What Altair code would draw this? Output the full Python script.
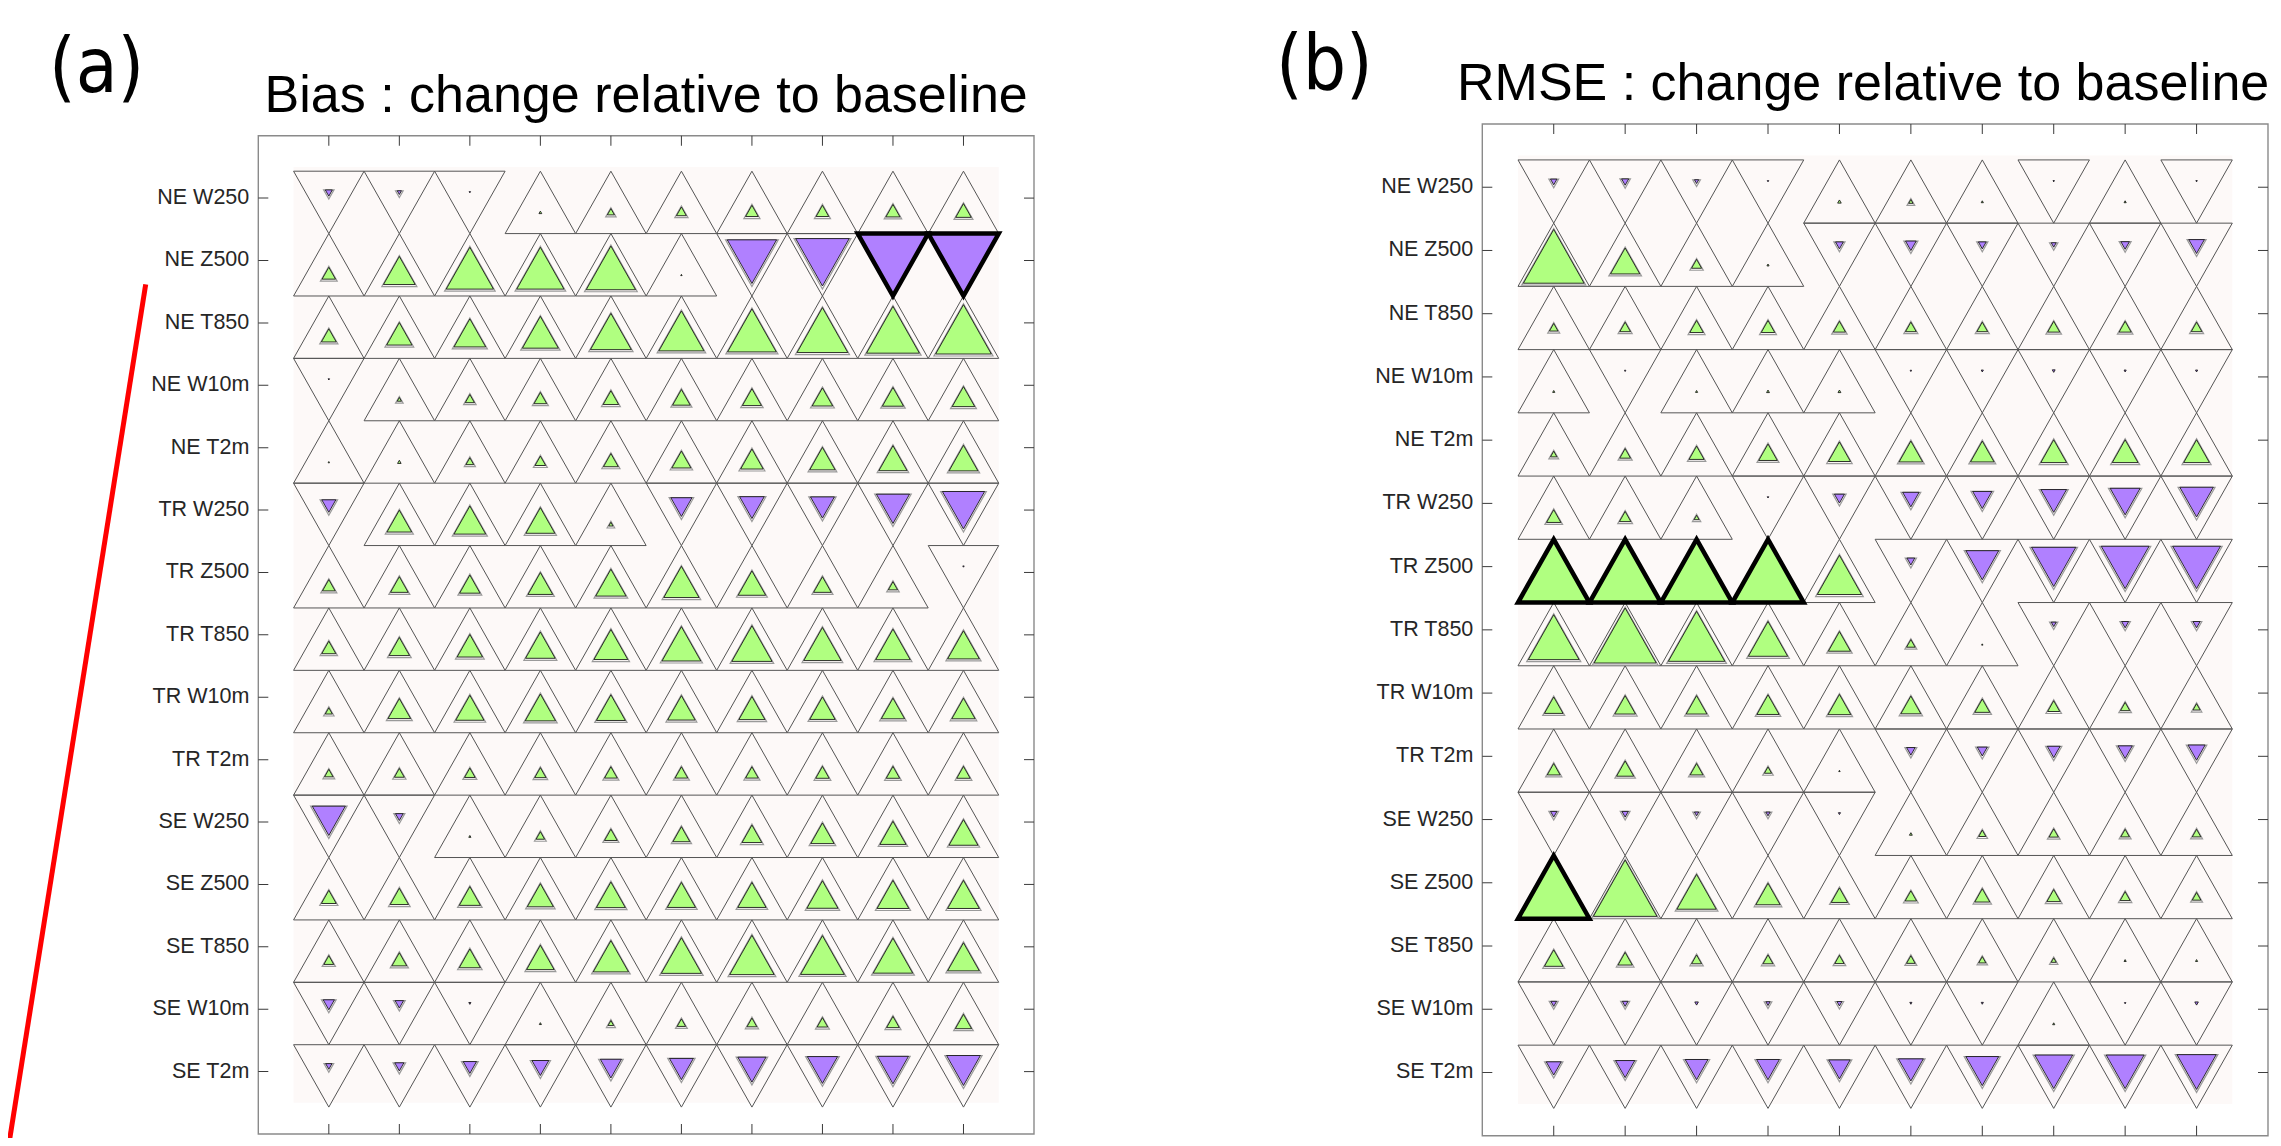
import altair as alt
import pandas as pd

# ---------------- data ----------------
rows = ["NE W250", "NE Z500", "NE T850", "NE W10m", "NE T2m",
        "TR W250", "TR Z500", "TR T850", "TR W10m", "TR T2m",
        "SE W250", "SE Z500", "SE T850", "SE W10m", "SE T2m"]
cols = list(range(1, 11))

# signed relative size of the inner triangle (+ up / green, - down / purple)
bias_NE = [
    [-0.10, -0.06, -0.02, 0.04, 0.10, 0.14, 0.18, 0.18, 0.20, 0.22],
    [0.19, 0.45, 0.67, 0.67, 0.70, 0.02, -0.70, -0.76, -1.00, -1.00],
    [0.21, 0.36, 0.45, 0.51, 0.58, 0.64, 0.69, 0.72, 0.75, 0.79],
    [-0.02, 0.06, 0.13, 0.18, 0.22, 0.25, 0.27, 0.29, 0.30, 0.32],
    [0.02, 0.05, 0.11, 0.15, 0.21, 0.27, 0.32, 0.36, 0.40, 0.41],
]
bias_TR = [
    [-0.20, 0.35, 0.45, 0.41, 0.06, -0.30, -0.35, -0.34, -0.47, -0.60],
    [0.18, 0.25, 0.29, 0.35, 0.43, 0.50, 0.39, 0.25, 0.13, -0.02],
    [0.20, 0.29, 0.36, 0.42, 0.48, 0.55, 0.57, 0.53, 0.49, 0.45],
    [0.10, 0.32, 0.40, 0.43, 0.41, 0.39, 0.37, 0.36, 0.33, 0.33],
    [0.12, 0.14, 0.15, 0.16, 0.18, 0.18, 0.18, 0.19, 0.19, 0.19],
]
bias_SE = [
    [-0.47, -0.11, 0.03, 0.12, 0.18, 0.24, 0.28, 0.33, 0.37, 0.41],
    [0.21, 0.26, 0.30, 0.37, 0.41, 0.40, 0.40, 0.44, 0.45, 0.45],
    [0.14, 0.21, 0.30, 0.39, 0.50, 0.57, 0.63, 0.62, 0.56, 0.45],
    [-0.16, -0.12, -0.03, 0.03, 0.08, 0.12, 0.14, 0.15, 0.18, 0.23],
    [-0.09, -0.13, -0.19, -0.24, -0.30, -0.34, -0.40, -0.43, -0.44, -0.48],
]
bias_sig = [("NE Z500", 9), ("NE Z500", 10)]

rmse_NE = [
    [-0.09, -0.10, -0.06, -0.02, 0.05, 0.06, 0.03, -0.02, 0.03, -0.02],
    [0.85, 0.41, 0.14, 0.03, -0.11, -0.15, -0.11, -0.07, -0.12, -0.22],
    [0.12, 0.15, 0.19, 0.19, 0.17, 0.15, 0.15, 0.17, 0.17, 0.15],
    [0.03, -0.02, 0.03, 0.04, 0.04, -0.02, -0.03, -0.04, -0.03, -0.03],
    [0.09, 0.15, 0.21, 0.26, 0.31, 0.33, 0.33, 0.36, 0.36, 0.36],
]
rmse_TR = [
    [0.20, 0.16, 0.07, -0.02, -0.14, -0.23, -0.27, -0.36, -0.42, -0.47],
    [1.00, 1.00, 1.00, 1.00, 0.62, -0.11, -0.46, -0.62, -0.67, -0.67],
    [0.71, 0.87, 0.79, 0.55, 0.31, 0.12, 0.02, -0.07, -0.10, -0.10],
    [0.26, 0.29, 0.29, 0.31, 0.32, 0.28, 0.21, 0.17, 0.13, 0.10],
    [0.18, 0.24, 0.18, 0.10, 0.02, -0.12, -0.14, -0.18, -0.20, -0.24],
]
rmse_SE = [
    [-0.09, -0.09, -0.06, -0.06, -0.03, 0.04, 0.10, 0.13, 0.12, 0.12],
    [1.00, 0.89, 0.55, 0.34, 0.23, 0.16, 0.21, 0.19, 0.14, 0.12],
    [0.26, 0.20, 0.14, 0.14, 0.13, 0.12, 0.10, 0.07, 0.03, 0.03],
    [-0.08, -0.08, -0.05, -0.06, -0.07, -0.03, -0.03, 0.03, -0.02, -0.05],
    [-0.21, -0.27, -0.32, -0.32, -0.30, -0.35, -0.46, -0.53, -0.53, -0.55],
]
rmse_sig = [("TR Z500", 1), ("TR Z500", 2), ("TR Z500", 3), ("TR Z500", 4),
            ("SE Z500", 1)]

titles = ["Bias : change relative to baseline", "RMSE : change relative to baseline"]
panel_tags = ["(a)", "(b)"]

# ---------------- styling ----------------
GREEN = "#b0ff80"
PURPLE = "#b080ff"
BG = "#fdf9f8"
FONT = "Liberation Sans"
TAG_FONT = "Liberation Sans Narrow, DejaVu Sans Condensed, Roboto Condensed, Liberation Sans, sans-serif"

OUT_UP = "M-1.13,1L1.13,1L0,-1Z"
OUT_DN = "M-1.13,-1L1.13,-1L0,1Z"
IN_UP = "M-1.13,0.6667L1.13,0.6667L0,-1.3333Z"
IN_DN = "M-1.13,-0.6667L1.13,-0.6667L0,1.3333Z"
BAND_SHIFT = 4.3


def build_df(tables, sig):
    vals = tables[0] + tables[1] + tables[2]
    recs = []
    for ri, (lab, rv) in enumerate(zip(rows, vals), start=1):
        for c, v in zip(cols, rv):
            recs.append(dict(row=lab, ri=ri, col=c, v=v, sig=(lab, c) in sig))
    return pd.DataFrame(recs)


def panel(df, sx_range, sy_range, title, title_y, title_dx):
    x0, x1 = sx_range
    y0, y1 = sy_range
    H = (y1 - y0) / 16.0
    sx = alt.Scale(domain=[0, 11], range=[x0, x1], nice=False, zero=False)
    sy = alt.Scale(domain=[0, 16], range=[y0, y1], nice=False, zero=False)
    X = alt.X("col:Q", scale=sx, axis=None)
    Y = alt.Y("ri:Q", scale=sy, axis=None)
    one = pd.DataFrame({"k": [0]})
    tick_cols = pd.DataFrame({"col": cols})
    tick_rows = pd.DataFrame({"ri": list(range(1, 16)), "row": rows})

    layers = []
    # background
    layers.append(alt.Chart(one).mark_rect(fill=BG, stroke=None).encode(
        x=alt.X(datum=0.5, type="quantitative", scale=sx, axis=None),
        x2=alt.X2(datum=10.5),
        y=alt.Y(datum=0.5, type="quantitative", scale=sy, axis=None),
        y2=alt.Y2(datum=15.5)))
    base = alt.Chart(df).transform_calculate(
        dir="datum.v >= 0 ? 'up' : 'down'",
        sz=f"pow(abs(datum.v) * {H}, 2)",
        szs=f"pow(abs(datum.v) * {H} + 3, 2)")
    # outer triangles
    layers.append(base.mark_point(filled=False, color="#555555", strokeWidth=1,
                                  opacity=1, size=H * H, yOffset=BAND_SHIFT).encode(
        x=X, y=Y,
        shape=alt.Shape("dir:N", scale=alt.Scale(domain=["up", "down"],
                                                 range=[OUT_UP, OUT_DN]), legend=None)))
    for sign, path, fill, dy in [(">", IN_UP, GREEN, BAND_SHIFT + H / 6),
                                 ("<", IN_DN, PURPLE, BAND_SHIFT - H / 6)]:
        part = base.transform_filter(f"datum.v {sign} 0")
        normal = part.transform_filter("!datum.sig")
        layers.append(normal.transform_filter("abs(datum.v) > 0.05").mark_point(
            shape=path, filled=False, color="#9a9a9a", strokeWidth=1.2, opacity=1,
            yOffset=dy + 1).encode(x=X, y=Y, size=alt.Size("szs:Q", scale=None)))
        layers.append(normal.mark_point(
            shape=path, filled=True, fill=fill, stroke="#1a1a1a", strokeWidth=0.9,
            opacity=1, yOffset=dy).encode(x=X, y=Y, size=alt.Size("sz:Q", scale=None)))
        layers.append(part.transform_filter("datum.sig").mark_point(
            shape=path, filled=True, fill=fill, stroke="black", strokeWidth=4.5,
            strokeJoin="miter", opacity=1, yOffset=dy).encode(
            x=X, y=Y, size=alt.Size("sz:Q", scale=None)))
    # frame
    layers.append(alt.Chart(one).mark_rect(fillOpacity=0, stroke="#8a8a8a",
                                           strokeWidth=1.4).encode(
        x=alt.X(datum=0, type="quantitative", scale=sx, axis=None),
        x2=alt.X2(datum=11),
        y=alt.Y(datum=0, type="quantitative", scale=sy, axis=None),
        y2=alt.Y2(datum=16)))
    # inward ticks
    for yv, off in [(0, 5), (16, -5)]:
        layers.append(alt.Chart(tick_cols).mark_tick(
            orient="vertical", size=10, thickness=1, color="#3a3a3a", opacity=1,
            yOffset=off).encode(
            x=X, y=alt.Y(datum=yv, type="quantitative", scale=sy, axis=None)))
    for xv, off in [(0, 5), (11, -5)]:
        layers.append(alt.Chart(tick_rows).mark_tick(
            orient="horizontal", size=10, thickness=1, color="#3a3a3a", opacity=1,
            xOffset=off).encode(
            y=Y, x=alt.X(datum=xv, type="quantitative", scale=sx, axis=None)))
    # row labels
    layers.append(alt.Chart(tick_rows).mark_text(
        align="right", baseline="middle", dx=-9, font=FONT, fontSize=21.5,
        color="#262626").encode(
        y=Y, x=alt.X(datum=0, type="quantitative", scale=sx, axis=None),
        text="row:N"))
    # title
    layers.append(alt.Chart(one).mark_text(
        text=title, align="center", baseline="alphabetic", font=FONT,
        fontSize=52, color="black", dx=title_dx).encode(
        x=alt.X(datum=5.5, type="quantitative", scale=sx, axis=None),
        y=alt.value(title_y)))
    return layers


df_a = build_df([bias_NE, bias_TR, bias_SE], bias_sig)
df_b = build_df([rmse_NE, rmse_TR, rmse_SE], rmse_sig)

layers = []
layers += panel(df_a, (250.3, 1026.0), (127.7, 1126.0), titles[0], 103.7, 0)
layers += panel(df_b, (1474.3, 2260.0), (116.0, 1127.7), titles[1], 92.0, -12)

one = pd.DataFrame({"k": [0]})
layers.append(alt.Chart(one).mark_text(
    text=panel_tags[0], align="left", baseline="alphabetic", font=TAG_FONT,
    fontSize=76, color="black").encode(x=alt.value(41), y=alt.value(84)))
layers.append(alt.Chart(one).mark_text(
    text=panel_tags[1], align="left", baseline="alphabetic", font=TAG_FONT,
    fontSize=76, color="black").encode(x=alt.value(1268), y=alt.value(81)))
# red annotation line
layers.append(alt.Chart(one).mark_rule(color="#ff0000", strokeWidth=5).encode(
    x=alt.value(137.7), y=alt.value(276.3), x2=alt.value(0.6), y2=alt.value(1138)))

chart = alt.layer(*layers).resolve_scale(
    x="independent", y="independent", shape="independent"
).properties(
    width=2265, height=1130,
    autosize=alt.AutoSizeParams(type="none"), padding=0,
    background="white"
).configure_view(stroke=None)

chart.save("out.html", embed_options={"renderer": "svg", "actions": False})
